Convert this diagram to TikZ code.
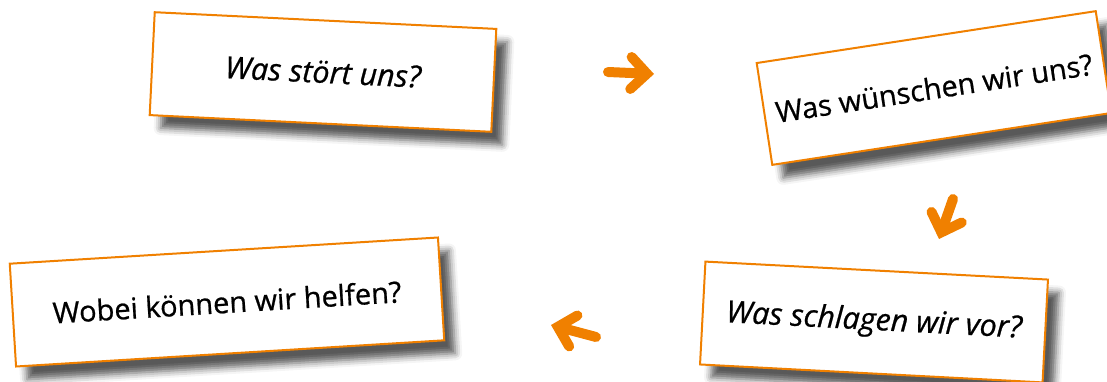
\documentclass[tikz,border=0pt]{standalone}
\usepackage{fontspec}
\setmainfont{Open Sans}[FakeBold=0.7]
\usetikzlibrary{positioning,arrows.meta,shadows.blur}
\definecolor{cardorange}{RGB}{240,128,0}

\begin{document}
\begin{tikzpicture}[x=1pt,y=-1pt,
  card/.style={draw=cardorange,line width=2pt,fill=white,inner sep=0pt,minimum height=103pt,
    blur shadow={shadow xshift=11pt,shadow yshift=-13pt,shadow blur radius=7pt,shadow opacity=65},
    font=\fontsize{29}{34}\selectfont},
  slant/.style={font=\fontsize{30.5}{34}\selectfont\itshape},
  flow/.style={cardorange,line width=10pt,line cap=round,
    -{Straight Barb[line cap=round,line join=miter,length=16pt,width=32pt]}}]
\useasboundingbox (0,0) rectangle (1107,381);
% the four cards
\node[card,slant,minimum width=342pt,rotate=-2.8] (stoert) at (323,72) {Was stört uns?};
\node[card,minimum width=343pt,rotate=8.7] (wuensch) at (934,88) {\raisebox{-3pt}{Was wünschen wir uns?}};
\node[card,slant,minimum width=343pt,rotate=-3] (vorschlag) at (874,322) {\raisebox{-2pt}{Was schlagen wir vor?}};
\node[card,minimum width=429pt,rotate=3.5] (helfen) at (227,302) {\raisebox{-5pt}{Wobei können wir helfen?}};
% the arrows between them
\coordinate (a1s) at (608,72);
\coordinate (a1e) at (654,74);
\coordinate (a2s) at (953,199);
\coordinate (a2e) at (939,239);
\coordinate (a3s) at (596,337);
\coordinate (a3e) at (551,325);
\draw[flow] (a1s)--(a1e);
\draw[flow] (a2s)--(a2e);
\draw[flow] (a3s)--(a3e);
\end{tikzpicture}
\end{document}
